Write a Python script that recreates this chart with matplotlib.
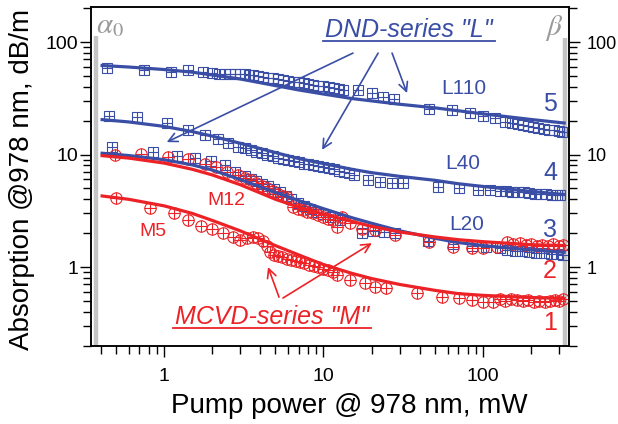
import matplotlib
matplotlib.use("Agg")
import matplotlib.pyplot as plt
from matplotlib.ticker import LogLocator, NullFormatter, FuncFormatter

plt.rcParams['font.family'] = ['Liberation Sans', 'DejaVu Sans']
plt.rcParams['mathtext.fontset'] = 'stix'

BLUE = '#3a4ea6'
RED = '#ec2227'
BAR = '#c4c4c4'

# DND-series "L" fibres (squares): pump power, mW / absorption, dB/m
l110_p = [0.44, 0.75, 1.10, 1.41, 1.76, 2.0, 2.2, 2.4, 2.6, 2.8, 3.0, 3.2, 3.4, 3.6, 3.9,
          4.2, 4.5, 4.8, 5.2, 5.6, 6.0, 6.5, 7.0, 7.5, 8.0, 8.6, 9.2, 10, 10.8, 11.6, 12.5,
          13.3, 16.4, 20, 23.6, 27.7, 45.8, 63.8, 83, 100, 119, 138, 153, 165, 178, 192,
          207, 222, 240, 258, 278, 298, 315]
l110_a = [58.7, 56, 54.6, 56, 54.6, 53, 52.5, 52.5, 52, 52, 52, 51.5, 51, 50.5, 50,
          49, 48, 47.5, 47, 46, 45, 44.5, 44, 43, 42, 41.5, 41, 40.5, 40, 39, 38.5,
          37.5, 37.4, 35, 32.5, 31, 25.4, 25, 23.4, 22, 21, 19.4, 19, 18.6, 18.2, 17.8,
          17.5, 17.2, 17, 16.6, 16.4, 16.2, 16]

l40_p = [0.45, 0.68, 1.04, 1.41, 1.8, 2.17, 2.52, 2.9, 3.2, 3.5, 3.8, 4.1, 4.4, 4.8, 5.2,
         5.6, 6.0, 6.5, 7.0, 7.5, 8.0, 8.6, 9.2, 10, 10.8, 11.6, 12.5, 13.5, 14.5, 15.5,
         19, 22.6, 27, 31.6, 52, 71, 93, 110, 128, 140, 152, 165, 180, 195, 212, 230,
         250, 270, 290, 305]
l40_a = [22, 21.6, 19.1, 16.5, 14.9, 13.8, 12.6, 11.7, 11.4, 11.0, 10.6, 10.3, 10.0, 9.7, 9.4,
         9.1, 8.9, 8.7, 8.5, 8.3, 8.2, 8.0, 7.9, 7.8, 7.6, 7.4, 7.2, 7.0, 6.8, 6.6,
         5.9, 5.7, 5.6, 5.6, 5.1, 5.0, 4.8, 4.8, 4.75, 4.7, 4.65, 4.6, 4.6, 4.55, 4.5, 4.5,
         4.45, 4.4, 4.4, 4.35]

l20_p = [0.47, 0.85, 1.2, 1.56, 1.97, 2.4, 2.8, 3.2, 3.5, 3.8, 4.1, 4.5, 4.9, 5.3, 5.8,
         6.3, 6.9, 7.5, 8.2, 9.0, 10, 11, 12.7, 17.5, 20.4, 24, 28, 45, 65, 85, 105, 127,
         141, 158, 175, 195, 215, 240, 265, 290, 318]
l20_a = [11.7, 10.5, 9.7, 9.3, 8.8, 8.1, 7.0, 6.4, 6.1, 5.8, 5.5, 5.2, 4.9, 4.6, 4.3,
         4.0, 3.7, 3.5, 3.3, 3.1, 2.95, 2.8, 2.6, 2.0, 2.1, 2.05, 2.0, 1.7, 1.6, 1.55, 1.5, 1.47,
         1.42, 1.4, 1.38, 1.36, 1.34, 1.32, 1.3, 1.3, 1.28]

# MCVD-series "M" fibres (circles)
m12_p = [0.49, 0.72, 1.06, 1.41, 1.8, 2.12, 2.5, 2.9, 3.2, 3.5, 3.8, 4.1, 4.4, 4.8, 5.2,
         5.6, 5.9, 6.4, 6.9, 7.4, 7.9, 8.6, 9.2, 9.9, 10.6, 11.4, 12.2, 13, 14.6, 17.4, 21,
         28, 46, 65, 85, 100, 122, 141, 155, 170, 185, 200, 218, 235, 255, 275, 298, 318]
m12_a = [9.9, 10.1, 9.5, 9.1, 8.2, 7.7, 7.0, 6.6, 6.2, 5.9, 5.6, 5.3, 5.0, 4.7, 4.5,
         4.3, 4.2, 3.4, 3.3, 3.2, 3.1, 3.0, 2.9, 2.8, 2.7, 2.6, 2.27, 2.8, 2.46, 2.2, 2.13,
         1.92, 1.67, 1.5, 1.47, 1.47, 1.5, 1.67, 1.6, 1.62, 1.58, 1.6, 1.55, 1.58, 1.55, 1.6, 1.55, 1.58]

m5_p = [0.5, 0.82, 1.15, 1.41, 1.7, 2.0, 2.35, 2.7, 3.0, 3.3, 3.6, 3.9, 4.2, 4.4, 4.6,
        4.9, 5.2, 5.5, 5.9, 6.3, 6.7, 7.1, 7.6, 8.1, 8.7, 9.3, 10, 10.7, 11.4, 12.2, 14.6,
        18.2, 21, 24.5, 38.6, 55, 71, 85, 100, 116, 127, 138, 150, 163, 177, 192, 208,
        225, 243, 262, 282, 300, 318]
m5_a = [4.1, 3.35, 3.0, 2.6, 2.3, 2.17, 2.0, 1.85, 1.74, 1.8, 1.85, 1.8, 1.7, 1.55, 1.35,
        1.28, 1.25, 1.22, 1.19, 1.16, 1.13, 1.11, 1.08, 1.05, 1.02, 1.0, 0.97, 0.94, 0.9, 0.85, 0.77,
        0.72, 0.66, 0.65, 0.59, 0.54, 0.53, 0.51, 0.49, 0.49, 0.52, 0.50, 0.52, 0.51, 0.50, 0.51, 0.49,
        0.50, 0.49, 0.50, 0.51, 0.50, 0.52]

# model curves 1..5
fit_p = [0.4, 0.6, 1, 1.5, 2, 3, 5, 7, 10, 15, 20, 30, 50, 70, 100, 150, 200, 330]
fit_5 = [62, 60, 57, 54, 51, 47, 41, 37.5, 34.5, 31.5, 30, 28, 26, 24.5, 23, 21.5, 20.5, 19]
fit_4 = [20.5, 19.5, 17.8, 16, 14.6, 12.6, 10.4, 9.2, 8.3, 7.4, 6.9, 6.4, 5.9, 5.5, 5.2, 4.9, 4.7, 4.4]
fit_3 = [10.3, 9.8, 9.0, 8.1, 7.3, 6.0, 4.6, 3.9, 3.3, 2.75, 2.45, 2.1, 1.8, 1.65, 1.55, 1.47, 1.42, 1.35]
fit_2 = [9.8, 9.3, 8.4, 7.4, 6.6, 5.4, 4.0, 3.4, 2.95, 2.55, 2.3, 2.05, 1.85, 1.75, 1.68, 1.62, 1.58, 1.55]
fit_1 = [4.3, 4.0, 3.5, 3.0, 2.6, 2.1, 1.55, 1.28, 1.05, 0.88, 0.79, 0.7, 0.62, 0.58, 0.56, 0.545, 0.535, 0.525]

# small-signal (alpha_0) and saturated (beta) limits
alpha0_p, alpha0_top = 0.375, 113
beta_p, beta_top = 328, 108

fig = plt.figure(figsize=(6.18, 4.24), dpi=100)
ax = fig.add_axes([0.1472, 0.184, 0.7735, 0.7995])
ax.set_xscale('log')
ax.set_yscale('log')
ax.set_xlim(0.3485, 346)
ax.set_ylim(0.1986, 205)

ax.vlines([alpha0_p, beta_p], 0.1986, [alpha0_top, beta_top], colors=BAR, lw=3.2, zorder=1)


def boxed(p, a, marker, color, ms):
    ax.plot(p, a, ls='none', marker=marker, mfc='none', mec=color, ms=ms, mew=0.8, zorder=3)
    ax.plot(p, a, ls='none', marker='+', mec=color, ms=ms, mew=0.8, zorder=3)


boxed(l110_p, l110_a, 's', BLUE, 7.2)
boxed(l40_p, l40_a, 's', BLUE, 7.2)
boxed(l20_p, l20_a, 's', BLUE, 7.2)
boxed(m12_p, m12_a, 'o', RED, 8.2)
boxed(m5_p, m5_a, 'o', RED, 8.2)

for f, c in [(fit_5, BLUE), (fit_4, BLUE), (fit_3, BLUE), (fit_2, RED), (fit_1, RED)]:
    ax.plot(fit_p, f, color=c, lw=2.3, zorder=4, solid_capstyle='butt')

# axes, ticks
for s in ax.spines.values():
    s.set_linewidth(1.1)
fmt = FuncFormatter(lambda v, _: '%g' % v)
ax.xaxis.set_major_locator(LogLocator(base=10))
ax.xaxis.set_minor_locator(LogLocator(base=10, subs=range(2, 10)))
ax.xaxis.set_major_formatter(fmt)
ax.xaxis.set_minor_formatter(NullFormatter())
ax.yaxis.set_major_formatter(fmt)
ax.yaxis.set_minor_formatter(NullFormatter())
ax.tick_params(which='both', direction='out', width=1.0, labelsize=14)
ax.tick_params(which='major', length=8)
ax.tick_params(which='minor', length=5.5)
ax.tick_params(axis='x', pad=7.5)
ax.tick_params(axis='y', pad=1)

ax2 = ax.twinx()
ax2.set_yscale('log')
ax2.set_ylim(ax.get_ylim())
ax2.yaxis.set_major_formatter(fmt)
ax2.yaxis.set_minor_formatter(NullFormatter())
ax2.tick_params(which='both', direction='out', width=1.0, labelsize=13, pad=5)
ax2.tick_params(which='major', length=8)
ax2.tick_params(which='minor', length=5.5)
for s in ax2.spines.values():
    s.set_linewidth(1.1)

ax.set_xlabel('Pump power @ 978 nm, mW', fontsize=20)
ax.xaxis.set_label_coords(0.541, -0.139)
ax.xaxis.label.set_va('top')
ax.set_ylabel('Absorption @978 nm, dB/m', fontsize=20)
ax.yaxis.set_label_coords(-0.117, 0.49)

# labels on the curves
ax.text(0.46, 141, r'$\alpha_0$', color='#9a9a9a', fontsize=21, ha='center', va='center')
ax.text(279, 133, r'$\beta$', color='#9a9a9a', fontsize=21, ha='center', va='center')

for s, x, y in [('L110', 76, 39), ('L40', 75, 8.4), ('L20', 79, 2.41)]:
    ax.text(x, y, s, color=BLUE, fontsize=15, ha='center', va='center')
for s, x, y in [('M12', 2.45, 3.94), ('M5', 0.853, 2.05)]:
    ax.text(x, y, s, color=RED, fontsize=14, ha='center', va='center')
for s, y, c in [('5', 28, BLUE), ('4', 6.85, BLUE), ('3', 2.13, BLUE), ('2', 0.92, RED), ('1', 0.318, RED)]:
    ax.text(263, y, s, color=c, fontsize=18, ha='center', va='center')

dnd = ax.text(34.4, 128, 'DND-series "L"', color=BLUE, fontsize=18, style='italic',
              ha='center', va='center')
mcvd = ax.text(4.75, 0.36, 'MCVD-series "M"', color=RED, fontsize=18, style='italic',
               ha='center', va='center')

arrow_kw = dict(arrowstyle='->', lw=1.2, mutation_scale=16, shrinkA=0, shrinkB=0)
for tail, head in [((15.3, 79.8), (1.04, 12.9)),
                   ((22, 79.8), (9.8, 11.0)),
                   ((26.9, 79.8), (33.4, 35.2))]:
    ax.annotate('', xy=head, xytext=tail, arrowprops=dict(color=BLUE, **arrow_kw), zorder=5)
for tail, head in [((5.26, 0.54), (4.49, 1.0)),
                   ((5.57, 0.53), (20.1, 1.63))]:
    ax.annotate('', xy=head, xytext=tail, arrowprops=dict(color=RED, **arrow_kw), zorder=5)

# underline the two series titles
fig.canvas.draw()
r = fig.canvas.get_renderer()
inv = ax.transAxes.inverted()
for t, c in [(dnd, BLUE), (mcvd, RED)]:
    bb = t.get_window_extent(r)
    (x0, y0), (x1, _) = inv.transform([(bb.x0 - 2, bb.y0 + 1), (bb.x1 + 2, bb.y0 + 1)])
    ax.plot([x0, x1], [y0, y0], color=c, lw=1.3, transform=ax.transAxes, clip_on=False)

fig.savefig('out.png', dpi=100)
